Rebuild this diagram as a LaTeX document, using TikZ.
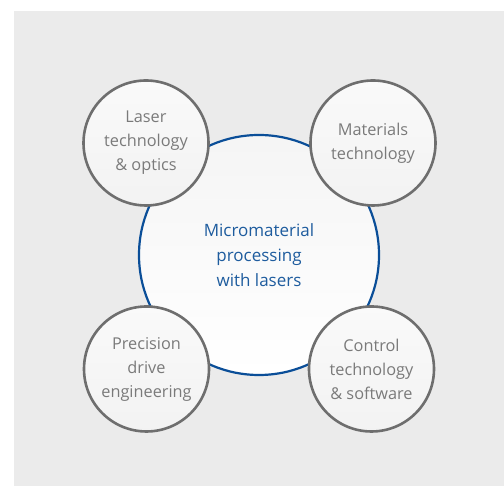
\documentclass[tikz,border=0pt]{standalone}
\usepackage{fontspec}
\setmainfont{Open Sans}
\definecolor{bggray}{HTML}{EBEBEB}
\definecolor{ringgray}{HTML}{6E6E6E}
\definecolor{txtgray}{HTML}{7A7A7A}
\definecolor{ringblue}{HTML}{0A4E98}
\definecolor{txtblue}{HTML}{1E5C9E}
\begin{document}
\begin{tikzpicture}[x=1pt,y=1pt,
  satellite/.style={circle, draw=ringgray, line width=2.6pt, minimum size=125pt, inner sep=0pt,
    top color=white!98!black, bottom color=white!95!black, text=txtgray, align=center,
    font=\fontsize{16.3}{24}\selectfont},
  hub/.style={circle, draw=ringblue, line width=2.2pt, minimum size=240pt, inner sep=0pt,
    top color=white!96!black, bottom color=white, text=txtblue, align=center,
    font=\fontsize{17}{25}\selectfont}]
\useasboundingbox (0,0) rectangle (504,486);
\fill[bggray] (14,0) rectangle (504,475);
\node[hub] (hub) at (259,231) {Micromaterial\\processing\\with lasers};
\node[satellite] (laser) at (146,343) {Laser\\technology\\\& optics};
\node[satellite] (mat) at (373,343) {Materials\\technology};
\node[satellite] (drive) at (146.5,117) {Precision\\drive\\engineering};
\node[satellite] (ctrl) at (371.5,117) {Control\\technology\\\& software};
\end{tikzpicture}
\end{document}
